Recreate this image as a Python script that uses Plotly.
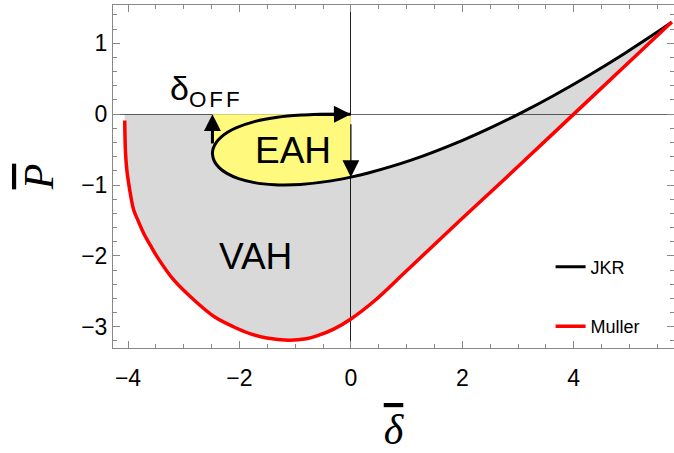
import plotly.graph_objects as go

# JKR curve, ordered along the curve
jkr_delta = [0.0, -0.223, -0.446, -0.669, -0.889, -1.318, -1.717, -2.062, -2.206, -2.325,
             -2.415, -2.470, -2.485, -2.453, -2.369, -2.225, -2.015, -1.731, -1.365, -1.194,
             -0.909, -0.353, 0.0, 0.312, 1.094, 2.005, 2.512, 3.055, 3.635, 4.254,
             4.913, 5.614, 5.759]
jkr_p = [0.0, -0.0002, -0.0016, -0.0055, -0.0130, -0.0436, -0.1018, -0.1937, -0.2532, -0.3216,
         -0.3982, -0.4817, -0.5556, -0.6613, -0.7514, -0.8362, -0.9100, -0.9663, -0.9970, -1.0000,
         -0.9925, -0.9416, -0.8889, -0.8312, -0.6463, -0.3698, -0.1912, 0.0178, 0.2602, 0.5387,
         0.8568, 1.2177, 1.2953]

# Muller curve
muller_delta = [-4.06, -4.055, -4.045, -4.02, -3.99, -3.95, -3.90, -3.81, -3.72, -3.60,
                -3.48, -3.18, -2.82, -2.45, -2.11, -1.80, -1.51, -1.12, -0.80, -0.61,
                -0.30, 0.0, 0.43, 1.0, 2.0, 3.0, 4.0, 5.0, 5.76]
muller_p = [-0.09, -0.30, -0.55, -0.80, -0.97, -1.16, -1.35, -1.52, -1.68, -1.85,
            -2.01, -2.34, -2.62, -2.86, -3.00, -3.10, -3.16, -3.19, -3.17, -3.13,
            -3.03, -2.89, -2.63, -2.21, -1.47, -0.74, 0.0, 0.74, 1.30]

x_tickvals = [-4, -2, 0, 2, 4]
y_tickvals = [-3, -2, -1, 0, 1]

i_left = jkr_delta.index(min(jkr_delta))
i_zero = next(i for i in range(i_left, len(jkr_delta)) if jkr_delta[i] >= 0)

gray_x = [muller_delta[0], 0] + jkr_delta[i_zero:] + muller_delta[::-1]
gray_y = [0, 0] + jkr_p[i_zero:] + muller_p[::-1]

yellow_x = [jkr_delta[i_left], 0] + jkr_delta[i_zero:i_left - 1:-1]
yellow_y = [0, 0] + jkr_p[i_zero:i_left - 1:-1]

fig = go.Figure()
fig.add_trace(go.Scatter(x=gray_x, y=gray_y, fill="toself", fillcolor="rgba(0,0,0,0.15)",
                         mode="lines", line=dict(width=0), showlegend=False, hoverinfo="skip"))
fig.add_trace(go.Scatter(x=yellow_x, y=yellow_y, fill="toself", fillcolor="rgb(255,250,125)",
                         mode="lines", line=dict(width=0), showlegend=False, hoverinfo="skip"))
fig.add_trace(go.Scatter(x=jkr_delta, y=jkr_p, mode="lines", name="JKR", legendgroup="a",
                         line=dict(color="black", width=3, shape="spline", smoothing=0.8)))
fig.add_trace(go.Scatter(x=muller_delta, y=muller_p, mode="lines", name="Muller", legendgroup="b",
                         line=dict(color="#ff0000", width=3.5, shape="spline", smoothing=1.0)))

ann = []
# arrows
ann.append(dict(x=jkr_delta[0], y=jkr_p[0], ax=jkr_delta[3], ay=jkr_p[3], xref="x", yref="y",
                axref="x", ayref="y", showarrow=True, arrowhead=2, arrowsize=1.13, arrowwidth=3,
                arrowcolor="black", text=" "))
ann.append(dict(x=0, y=jkr_p[i_zero], ax=0, ay=0, xref="x", yref="y",
                axref="x", ayref="y", showarrow=True, arrowhead=2, arrowsize=2.8, arrowwidth=1.2,
                arrowcolor="black", text=" "))
ann.append(dict(x=jkr_delta[i_left], y=0, ax=jkr_delta[i_left], ay=jkr_p[i_left], xref="x", yref="y",
                axref="x", ayref="y", showarrow=True, arrowhead=2, arrowsize=1.13, arrowwidth=3,
                arrowcolor="black", text=" "))
ann.append(dict(x=-1.035, y=-0.52, text="EAH", showarrow=False, xref="x", yref="y",
                font=dict(family="Liberation Sans", size=37, color="black")))
ann.append(dict(x=-1.72, y=-2.01, text="VAH", showarrow=False, xref="x", yref="y",
                font=dict(family="Liberation Sans", size=37, color="black")))
ann.append(dict(x=-3.28, y=0.33,
                text="<span style='font-size:34px'>δ</span><sub><span style='letter-spacing:3px'>OFF</span></sub>",
                showarrow=False, xref="x", yref="y", xanchor="left", yanchor="middle",
                font=dict(family="Liberation Sans", size=32, color="black")))

axis_common = dict(showline=True, linecolor="#888888", linewidth=1, mirror="allticks",
                   ticks="inside", ticklen=7, tickcolor="#888888", tickwidth=1,
                   showgrid=False, zeroline=True, zerolinewidth=1, automargin=False,
                   tickfont=dict(family="Liberation Sans", size=23, color="black"))

fig.update_layout(
    width=674, height=453,
    margin=dict(l=113, r=0, t=5, b=105),
    paper_bgcolor="white", plot_bgcolor="white",
    annotations=ann,
    legend=dict(x=0.78, y=0.29, xanchor="left", yanchor="top",
                font=dict(family="Liberation Sans", size=18, color="black"),
                bgcolor="rgba(0,0,0,0)", tracegroupgap=33, traceorder="grouped"),
    xaxis=dict(axis_common, range=[-4.27, 5.80], tickvals=x_tickvals, zerolinecolor="#222222",
               minor=dict(dtick=0.5, ticks="inside", ticklen=4, tickcolor="#888888", showgrid=False),
               ticklabelstandoff=9,
               title=dict(text="<span style='text-decoration:overline'><i>δ</i></span>",
                          font=dict(family="Liberation Serif", size=42, color="black"), standoff=42)),
    yaxis=dict(axis_common, range=[-3.30, 1.54], tickvals=y_tickvals, zerolinecolor="#666666",
               minor=dict(dtick=0.2, ticks="inside", ticklen=4, tickcolor="#888888", showgrid=False),
               ticklabelstandoff=0,
               title=dict(text="<span style='text-decoration:overline'><i>P</i></span>",
                          font=dict(family="Liberation Serif", size=42, color="black"), standoff=14)),
)

fig.write_html("out.html", config={"displayModeBar": False},
               post_script="document.body.style.margin='0px';document.body.style.overflow='hidden';")
